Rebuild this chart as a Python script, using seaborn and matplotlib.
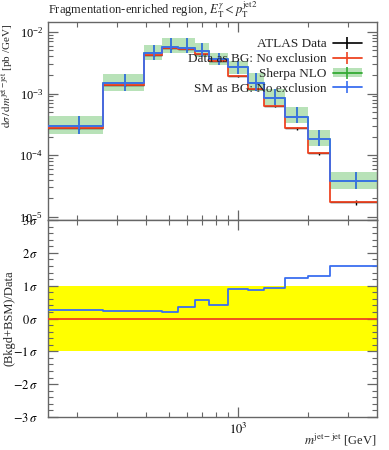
import numpy as np
import pandas as pd
import matplotlib
matplotlib.use("Agg")
import matplotlib.pyplot as plt
import seaborn as sns
from matplotlib.ticker import LogLocator, NullFormatter, FixedLocator, MultipleLocator, FuncFormatter
from matplotlib.lines import Line2D
from matplotlib.patches import Patch

# ---------------- data ----------------
bin_edges = [150, 260, 390, 470, 550, 650, 750, 900, 1100, 1300, 1600, 2000, 2500, 4000]
data_values = [2.76e-4, 1.37e-3, 4.26e-3, 5.46e-3, 5.26e-3, 4.31e-3, 3.36e-3,
               1.94e-3, 1.17e-3, 6.27e-4, 2.73e-4, 1.07e-4, 1.73e-5]
data_errors = [8e-6, 4e-5, 1.3e-4, 1.6e-4, 1.6e-4, 1.3e-4, 1.0e-4,
               8e-5, 5e-5, 3e-5, 1.4e-5, 6e-6, 1.4e-6]
sm_values = [3.03e-4, 1.50e-3, 4.49e-3, 5.74e-3, 5.52e-3, 4.89e-3, 3.66e-3,
             2.66e-3, 1.46e-3, 8.55e-4, 4.21e-4, 1.83e-4, 3.82e-5]
sherpa_low = [2.21e-4, 1.11e-3, 3.49e-3, 4.58e-3, 4.58e-3, 3.95e-3, 2.90e-3,
              2.05e-3, 1.11e-3, 6.52e-4, 3.37e-4, 1.41e-4, 2.80e-5]
sherpa_high = [4.36e-4, 2.07e-3, 6.04e-3, 8.00e-3, 7.86e-3, 6.65e-3, 4.58e-3,
               3.36e-3, 2.12e-3, 1.17e-3, 5.97e-4, 2.56e-4, 5.28e-5]
ratio_sigma = [0.26, 0.23, 0.23, 0.19, 0.34, 0.56, 0.41, 0.89, 0.87, 0.92, 1.22, 1.30, 1.61]
ratio_ticks = [-3, -2, -1, 0, 1, 2, 3]

title_text = r"Fragmentation-enriched region, $E_{\mathrm{T}}^{\gamma} < p_{\mathrm{T}}^{\mathrm{jet2}}$"
legend_labels = ["ATLAS Data", "Data as BG: No exclusion", "Sherpa NLO", "SM as BG: No exclusion"]

# ---------------- style ----------------
sns.set_theme(style="ticks")
plt.rcParams["font.family"] = ["Liberation Serif", "DejaVu Serif"]
plt.rcParams["mathtext.fontset"] = "stix"
plt.rcParams["axes.unicode_minus"] = False

C_RED = "#ee4422"
C_BLUE = "#3a6ef0"
C_GREEN = "#33aa33"
C_BAND = "#b8e2b8"
C_AX = "#666666"

edges = np.array(bin_edges, dtype=float)
centers = 0.5 * (edges[:-1] + edges[1:])
halfw = 0.5 * (edges[1:] - edges[:-1])

def step_df(vals):
    return pd.DataFrame({"x": edges, "y": list(vals) + [vals[-1]]})

fig = plt.figure(figsize=(3.89, 4.5), dpi=100)
ax1 = fig.add_axes([0.1234, 0.511, 0.846, 0.440])
ax2 = fig.add_axes([0.1234, 0.0733, 0.846, 0.4377])

# ---------------- top panel ----------------
ax1.set_xscale("log")
ax1.set_yscale("log")
ax1.fill_between(edges, list(sherpa_low) + [sherpa_low[-1]], list(sherpa_high) + [sherpa_high[-1]],
                 step="post", color=C_BAND, lw=0, zorder=1)
sm = np.array(sm_values)
yerr_sm = [sm - np.array(sherpa_low), np.array(sherpa_high) - sm]
ax1.errorbar(centers, sm, yerr=yerr_sm, fmt="none", ecolor=C_GREEN, elinewidth=1.2, zorder=2)
sns.lineplot(data=step_df(sm_values), x="x", y="y", drawstyle="steps-post", estimator=None,
             color=C_GREEN, lw=1.2, ax=ax1, zorder=2)
ax1.errorbar(centers, data_values, yerr=data_errors, xerr=halfw, fmt="none", ecolor="black",
             elinewidth=1.0, zorder=3)
sns.lineplot(data=step_df(data_values), x="x", y="y", drawstyle="steps-post", estimator=None,
             color=C_RED, lw=1.3, ax=ax1, zorder=4)
ax1.errorbar(centers, sm, yerr=yerr_sm, fmt="none", ecolor=C_BLUE, elinewidth=1.2, zorder=5)
sns.lineplot(data=step_df(sm_values), x="x", y="y", drawstyle="steps-post", estimator=None,
             color=C_BLUE, lw=1.3, ax=ax1, zorder=5)

ax1.set_xlim(150, 4000)
ax1.set_ylim(8.9e-6, 1.44e-2)
ax1.set_xlabel("")
ax1.set_ylabel(r"$\mathrm{d}\sigma\,/\,\mathrm{d}m^{\mathrm{jet-jet}}$ [pb /GeV]", loc="top", fontsize=8)
ax1.yaxis.set_label_coords(-0.098, 0.99)
ax1.yaxis.set_major_locator(LogLocator(base=10, numticks=10))
ax1.yaxis.set_minor_locator(LogLocator(base=10, subs=np.arange(2, 10), numticks=10))
ax1.xaxis.set_major_locator(FixedLocator([1000]))
ax1.xaxis.set_minor_locator(FixedLocator([200, 300, 400, 500, 600, 700, 800, 900, 2000, 3000]))
ax1.xaxis.set_major_formatter(NullFormatter())
ax1.xaxis.set_minor_formatter(NullFormatter())
ax1.yaxis.set_minor_formatter(NullFormatter())
ax1.text(0.0, 1.012, title_text, transform=ax1.transAxes, ha="left", va="bottom", fontsize=9)

handles = [
    Line2D([], [], color="black", lw=1.2, marker="|", markersize=9, markeredgewidth=1.2),
    Line2D([], [], color=C_RED, lw=1.3, marker="|", markersize=9, markeredgewidth=1.2),
    (Patch(facecolor=C_BAND, edgecolor="none"),
     Line2D([], [], color=C_GREEN, lw=1.3, marker="|", markersize=9, markeredgewidth=1.2)),
    Line2D([], [], color=C_BLUE, lw=1.3, marker="|", markersize=9, markeredgewidth=1.2),
]
ax1.legend(handles, legend_labels, loc="upper right", bbox_to_anchor=(0.97, 0.945), frameon=False,
           markerfirst=False, fontsize=9.5, handlelength=2.2, labelspacing=0.2, handletextpad=0.5,
           borderaxespad=0.0)

# ---------------- ratio panel ----------------
ax2.set_xscale("log")
ax2.axhspan(-1, 1, color="#ffff00", lw=0, zorder=0)
sns.lineplot(data=step_df([0.0] * len(ratio_sigma)), x="x", y="y", drawstyle="steps-post",
             estimator=None, color=C_RED, lw=1.3, ax=ax2, zorder=3)
sns.lineplot(data=step_df(ratio_sigma), x="x", y="y", drawstyle="steps-post", estimator=None,
             color=C_BLUE, lw=1.3, ax=ax2, zorder=4)
ax2.set_xlim(150, 4000)
ax2.set_ylim(-3, 3)
ax2.yaxis.set_major_locator(FixedLocator(ratio_ticks))
ax2.yaxis.set_minor_locator(MultipleLocator(0.2))
ax2.yaxis.set_major_formatter(FuncFormatter(lambda v, p: r"$%d\,\sigma$" % int(round(v))))
ax2.xaxis.set_major_locator(FixedLocator([1000]))
ax2.xaxis.set_minor_locator(FixedLocator([200, 300, 400, 500, 600, 700, 800, 900, 2000, 3000]))
ax2.xaxis.set_major_formatter(FuncFormatter(lambda v, p: r"$10^3$"))
ax2.xaxis.set_minor_formatter(NullFormatter())
ax2.set_ylabel("(Bkgd+BSM)/Data", fontsize=9)
ax2.yaxis.set_label_coords(-0.1, 0.5)
ax2.set_xlabel(r"$m^{\mathrm{jet-jet}}$ [GeV]", loc="right", fontsize=9)
ax2.xaxis.set_label_coords(1.0, -0.115)
ax2.xaxis.label.set_va("center")

for ax in (ax1, ax2):
    for s in ax.spines.values():
        s.set_color(C_AX)
        s.set_linewidth(1.0)
    ax.tick_params(which="both", direction="in", top=True, right=True, colors=C_AX,
                   labelcolor="black", labelsize=9)
    ax.tick_params(which="major", length=7, width=0.9)
    ax.tick_params(which="minor", length=3.5, width=0.8)
ax2.tick_params(axis="y", which="major", pad=7)

fig.savefig("out.png", dpi=100)
